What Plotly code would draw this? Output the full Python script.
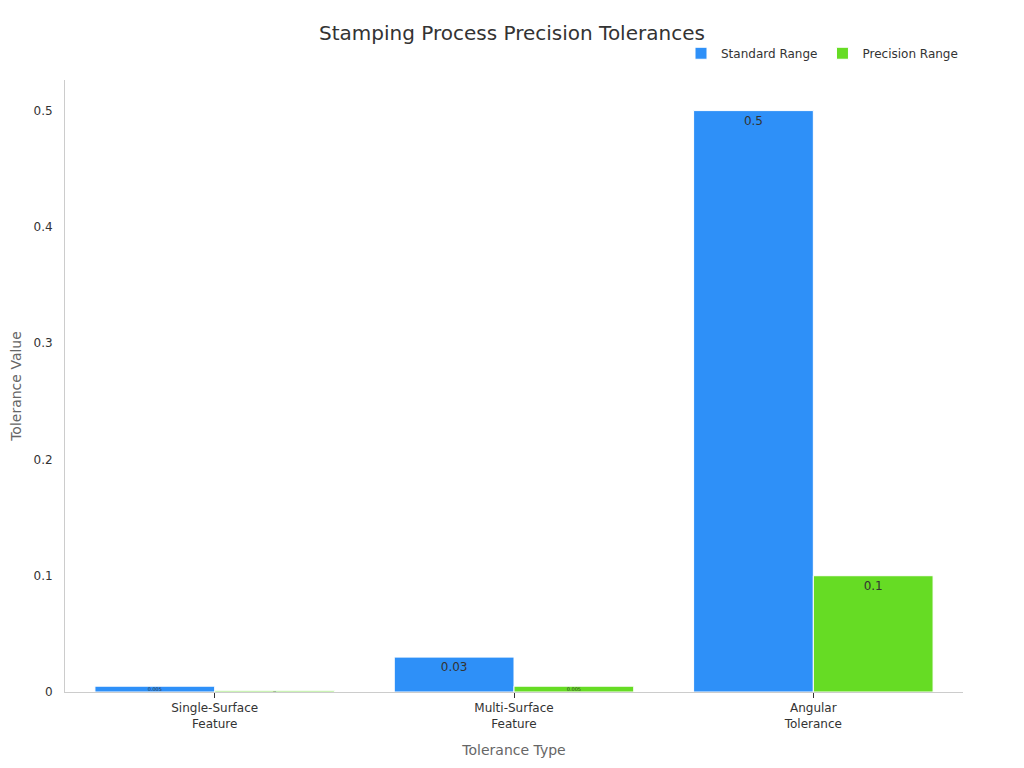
import plotly.graph_objects as go

categories = ["Single-Surface<br>Feature", "Multi-Surface<br>Feature", "Angular<br>Tolerance"]
standard_range = [0.005, 0.03, 0.5]
precision_range = [0.001, 0.005, 0.1]

BLUE = "#2E90F8"
GREEN = "#66DC24"
FONT = "DejaVu Sans, Verdana, sans-serif"

fig = go.Figure()
fig.add_trace(go.Bar(
    name="Standard Range", x=categories, y=standard_range,
    text=standard_range, textposition="inside", insidetextanchor="end",
    marker=dict(color=BLUE, line=dict(color="white", width=1)),
    textfont=dict(color="#333333", size=12),
))
fig.add_trace(go.Bar(
    name="Precision Range", x=categories, y=precision_range,
    text=precision_range, textposition="inside", insidetextanchor="end",
    marker=dict(color=GREEN, line=dict(color="white", width=1)),
    textfont=dict(color="#333333", size=12),
))

# page body adds an 8px offset, so the figure is 1016x760
fig.update_layout(
    width=1016, height=760,
    paper_bgcolor="white", plot_bgcolor="white",
    font=dict(family=FONT, color="#333333", size=12),
    title=dict(text="Stamping Process Precision Tolerances", x=0.496, xanchor="center",
               y=0.967, yanchor="middle", font=dict(size=20, color="#333333")),
    barmode="group", bargap=0.2, bargroupgap=0,
    margin=dict(l=57, r=61, t=72, b=76),
    legend=dict(orientation="h", x=1, xanchor="right", y=1.02, yanchor="bottom",
                font=dict(size=12, color="#333333")),
)
fig.update_xaxes(
    title=dict(text="Tolerance Type", font=dict(size=14, color="#666666")),
    showline=True, linecolor="#CCCCCC", ticks="outside", tickcolor="#333333",
    ticklen=5, showgrid=False, automargin=False,
)
fig.update_yaxes(
    title=dict(text="Tolerance Value", font=dict(size=14, color="#666666")),
    showline=True, linecolor="#CCCCCC", showgrid=False, zeroline=False,
    ticks="outside", ticklen=9, tickcolor="rgba(0,0,0,0)", automargin=False,
    tickvals=[0, 0.1, 0.2, 0.3, 0.4, 0.5], ticktext=["0", "0.1", "0.2", "0.3", "0.4", "0.5"],
)

fig.write_html("out.html")
